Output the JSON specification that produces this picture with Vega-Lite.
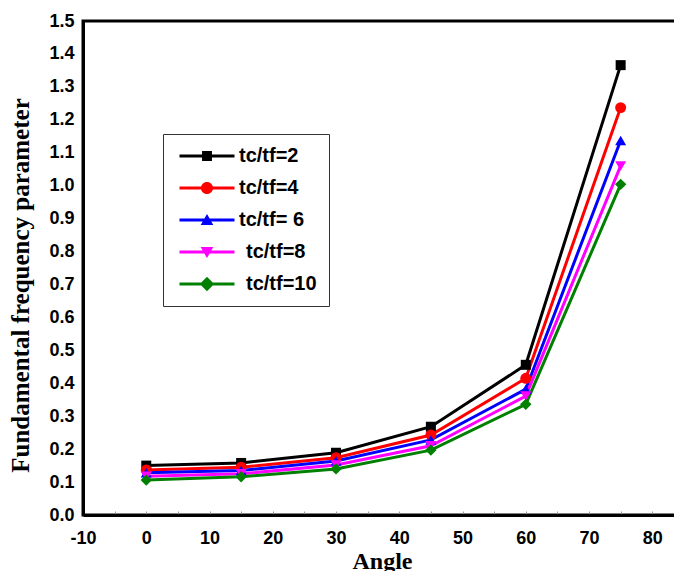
{
  "$schema": "https://vega.github.io/schema/vega-lite/v6.json",
  "width": 593,
  "height": 494,
  "autosize": {"type": "none"},
  "padding": {"left": 83, "top": 21, "right": 0, "bottom": 56},
  "background": "white",
  "data": {"values": [
    {"angle": 0, "value": 0.150, "series": "tc/tf=2"},
    {"angle": 15, "value": 0.158, "series": "tc/tf=2"},
    {"angle": 30, "value": 0.189, "series": "tc/tf=2"},
    {"angle": 45, "value": 0.268, "series": "tc/tf=2"},
    {"angle": 60, "value": 0.456, "series": "tc/tf=2"},
    {"angle": 75, "value": 1.366, "series": "tc/tf=2"},
    {"angle": 0, "value": 0.137, "series": "tc/tf=4"},
    {"angle": 15, "value": 0.145, "series": "tc/tf=4"},
    {"angle": 30, "value": 0.174, "series": "tc/tf=4"},
    {"angle": 45, "value": 0.243, "series": "tc/tf=4"},
    {"angle": 60, "value": 0.415, "series": "tc/tf=4"},
    {"angle": 75, "value": 1.237, "series": "tc/tf=4"},
    {"angle": 0, "value": 0.128, "series": "tc/tf= 6"},
    {"angle": 15, "value": 0.135, "series": "tc/tf= 6"},
    {"angle": 30, "value": 0.164, "series": "tc/tf= 6"},
    {"angle": 45, "value": 0.228, "series": "tc/tf= 6"},
    {"angle": 60, "value": 0.382, "series": "tc/tf= 6"},
    {"angle": 75, "value": 1.137, "series": "tc/tf= 6"},
    {"angle": 0, "value": 0.118, "series": "tc/tf=8"},
    {"angle": 15, "value": 0.125, "series": "tc/tf=8"},
    {"angle": 30, "value": 0.152, "series": "tc/tf=8"},
    {"angle": 45, "value": 0.210, "series": "tc/tf=8"},
    {"angle": 60, "value": 0.361, "series": "tc/tf=8"},
    {"angle": 75, "value": 1.060, "series": "tc/tf=8"},
    {"angle": 0, "value": 0.106, "series": "tc/tf=10"},
    {"angle": 15, "value": 0.116, "series": "tc/tf=10"},
    {"angle": 30, "value": 0.140, "series": "tc/tf=10"},
    {"angle": 45, "value": 0.197, "series": "tc/tf=10"},
    {"angle": 60, "value": 0.336, "series": "tc/tf=10"},
    {"angle": 75, "value": 1.004, "series": "tc/tf=10"}
  ]},
  "encoding": {
    "x": {
      "field": "angle", "type": "quantitative",
      "scale": {"domain": [-10, 83.75], "nice": false, "zero": false},
      "axis": {
        "orient": "bottom",
        "values": [-10, -5, 0, 5, 10, 15, 20, 25, 30, 35, 40, 45, 50, 55, 60, 65, 70, 75, 80],
        "labelExpr": "datum.value % 10 === 0 ? toString(datum.value) : ''",
        "labelOverlap": false,
        "labelFlush": false,
        "tickSize": -4,
        "tickColor": "#999",
        "tickWidth": 1,
        "labelPadding": 18,
        "title": "Angle",
        "titleX": 299,
        "titleY": 46,
        "titleBaseline": "middle",
        "titleFontSize": 24
      }
    },
    "y": {
      "field": "value", "type": "quantitative",
      "scale": {"domain": [0, 1.5], "nice": false},
      "axis": {
        "values": [0, 0.1, 0.2, 0.3, 0.4, 0.5, 0.6, 0.7, 0.8, 0.9, 1.0, 1.1, 1.2, 1.3, 1.4, 1.5],
        "format": ".1f",
        "ticks": false,
        "labelPadding": 9,
        "labelOverlap": false,
        "labelFlush": false,
        "labelFontSize": 18,
        "title": "Fundamental frequency parameter",
        "titleX": -63,
        "titleY": 264,
        "titleBaseline": "middle",
        "titleFontSize": 25
      }
    },
    "color": {
      "field": "series", "type": "nominal",
      "scale": {
        "domain": ["tc/tf=2", "tc/tf=4", "tc/tf= 6", "tc/tf=8", "tc/tf=10"],
        "range": ["#000000", "#ff0000", "#0000ff", "#ff00ff", "#008000"]
      },
      "legend": {
        "orient": "none",
        "legendX": 80,
        "legendY": 113,
        "title": null,
        "padding": 12,
        "strokeColor": "#333333",
        "fillColor": "white",
        "symbolSize": 121,
        "symbolStrokeWidth": 0,
        "labelFont": "Liberation Sans",
        "labelFontWeight": "bold",
        "labelFontSize": 20,
        "labelColor": "#000",
        "labelOffset": 44,
        "rowPadding": 12,
        "encode": {
          "symbols": {
            "update": {
              "shape": {"signal": "datum.index === 0 ? 'M-1,-0.27H9V0.27H-1ZM3.1,-0.9H4.9V0.9H3.1Z' : datum.index === 1 ? 'M-1,-0.27H9V0.27H-1ZM2.9,0A1.1,1.1,0,1,1,5.1,0A1.1,1.1,0,1,1,2.9,0Z' : datum.index === 2 ? 'M-1,-0.27H9V0.27H-1ZM4,-1.1L5.15,0.9L2.85,0.9Z' : datum.index === 3 ? 'M-1,-0.27H9V0.27H-1ZM2.85,-0.9L5.15,-0.9L4,1.1Z' : 'M-1,-0.27H9V0.27H-1ZM4,-1.3L5.3,0L4,1.3L2.7,0Z'"},
              "fill": {"signal": "scale('color', datum.value)"},
              "stroke": {"value": "transparent"},
              "strokeWidth": {"value": 0},
              "opacity": {"value": 1}
            }
          },
          "labels": {
            "update": {
              "dx": {"signal": "datum.index >= 3 ? 7 : 0"}
            }
          }
        }
      }
    }
  },
  "layer": [
    {"mark": {"type": "line", "strokeWidth": 3}},
    {
      "transform": [{"filter": "datum.series === 'tc/tf=2'"}],
      "mark": {"type": "point", "shape": "square", "filled": true, "size": 100, "opacity": 1}
    },
    {
      "transform": [{"filter": "datum.series === 'tc/tf=4'"}],
      "mark": {"type": "point", "shape": "circle", "filled": true, "size": 120, "opacity": 1}
    },
    {
      "transform": [{"filter": "datum.series === 'tc/tf= 6'"}],
      "mark": {"type": "point", "shape": "triangle-up", "filled": true, "size": 120, "opacity": 1}
    },
    {
      "transform": [{"filter": "datum.series === 'tc/tf=8'"}],
      "mark": {"type": "point", "shape": "triangle-down", "filled": true, "size": 120, "opacity": 1}
    },
    {
      "transform": [{"filter": "datum.series === 'tc/tf=10'"}],
      "mark": {"type": "point", "shape": "diamond", "filled": true, "size": 130, "opacity": 1}
    }
  ],
  "config": {
    "font": "Liberation Sans",
    "view": {"stroke": "#000", "strokeWidth": 3},
    "axis": {
      "labelFont": "Liberation Sans",
      "labelFontWeight": "bold",
      "labelFontSize": 18,
      "labelColor": "#000",
      "titleFont": "Liberation Serif",
      "titleFontWeight": "bold",
      "titleColor": "#000",
      "domainColor": "#000",
      "domainWidth": 3,
      "grid": false
    }
  }
}
